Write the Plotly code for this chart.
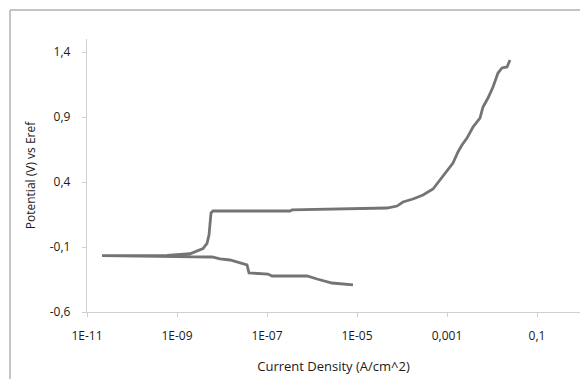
import plotly.graph_objects as go

# Scan order: cathodic branch (high current, -0.39 V) -> Ecorr -> anodic / passive / transpassive
log_current = [-5.089, -5.556, -5.889, -6.111, -6.889, -6.978, -7.400, -7.444, -7.822, -8.044,
               -8.222, -8.711, -9.222, -10.04, -10.667,
               -10.667, -9.222, -8.711, -8.422, -8.333, -8.289, -8.267, -8.244, -8.2,
               -6.489, -6.444, -4.933, -4.333, -4.111, -3.978, -3.756, -3.533, -3.311,
               -3.156, -3.0, -2.867, -2.756, -2.667, -2.556, -2.422, -2.267, -2.2, -2.089,
               -1.978, -1.867, -1.778, -1.667, -1.6]
potential = [-0.392, -0.377, -0.346, -0.323, -0.323, -0.308, -0.300, -0.238, -0.200, -0.192,
             -0.177, -0.175, -0.169, -0.168, -0.167,
             -0.166, -0.165, -0.152, -0.112, -0.072, -0.008, 0.069, 0.162, 0.177,
             0.177, 0.185, 0.192, 0.200, 0.215, 0.246, 0.269, 0.300, 0.346,
             0.415, 0.492, 0.546, 0.631, 0.685, 0.738, 0.823, 0.892, 0.977, 1.046,
             1.131, 1.238, 1.277, 1.285, 1.338]
current = [10 ** v for v in log_current]

x_tickvals = [1e-11, 1e-9, 1e-7, 1e-5, 1e-3, 1e-1]
x_ticktext = ["1E-11", "1E-09", "1E-07", "1E-05", "0,001", "0,1"]
y_tickvals = [-0.6, -0.1, 0.4, 0.9, 1.4]
y_ticktext = ["-0,6", "-0,1", "0,4", "0,9", "1,4"]

W, H = 580, 379
L, T, B, R = 87, 39, 67, 0
plot_w = W - L - R
plot_h = H - T - B

fig = go.Figure()
fig.add_trace(go.Scatter(x=current, y=potential, mode="lines",
                         line=dict(color="#747474", width=2.8), showlegend=False))

font_family = "Open Sans, Liberation Sans, sans-serif"
axis_color = "#d0d0d0"

fig.update_layout(
    width=W, height=H,
    margin=dict(l=L, r=R, t=T, b=B, pad=0),
    paper_bgcolor="white", plot_bgcolor="white",
    font=dict(family=font_family, size=12, color="#1a1a1a"),
    xaxis=dict(type="log", range=[-11, -11 + plot_w / 45.0],
               tickvals=x_tickvals, ticktext=x_ticktext,
               showgrid=False, zeroline=False,
               showline=True, linecolor=axis_color, linewidth=1.3,
               ticks="outside", ticklen=4, tickcolor=axis_color,
               ticklabelstandoff=8,
               tickfont=dict(size=12),
               title=dict(text="Current Density (A/cm^2)", font=dict(size=13), standoff=19),
               automargin=False),
    yaxis=dict(range=[-0.6, 1.5],
               tickvals=y_tickvals, ticktext=y_ticktext,
               showgrid=False, zeroline=False,
               showline=True, linecolor=axis_color, linewidth=1.3,
               ticks="outside", ticklen=4, tickcolor=axis_color,
               ticklabelstandoff=9,
               tickfont=dict(size=12),
               title=dict(text="Potential (V) vs Eref", font=dict(size=12), standoff=11),
               automargin=False),
)

# chart area border (partially cropped on right and bottom)
bx = (10 - L) / plot_w
by = 1 + (T - 10) / plot_h
fig.add_shape(type="line", xref="paper", yref="paper", x0=bx, x1=bx, y0=-0.5, y1=by,
              line=dict(color="#b0b0b0", width=1.5))
fig.add_shape(type="line", xref="paper", yref="paper", x0=bx, x1=1.5, y0=by, y1=by,
              line=dict(color="#b0b0b0", width=1.5))

fig.write_html("out.html")
